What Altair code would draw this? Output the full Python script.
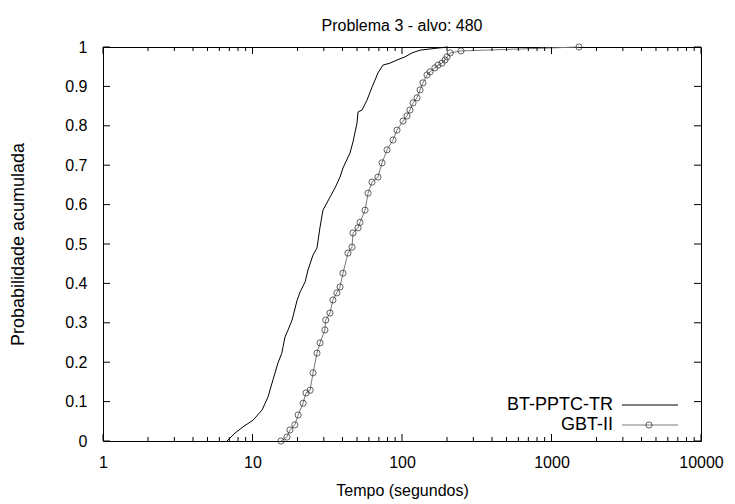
import altair as alt
import pandas as pd

chart_title = "Problema 3 - alvo: 480"
x_title = "Tempo (segundos)"
y_title = "Probabilidade acumulada"
series_names = ["BT-PPTC-TR", "GBT-II"]

x_major = [1, 10, 100, 1000, 10000]
x_minor = [k * 10 ** e for e in range(4) for k in range(2, 10)]
y_major = [0, 0.1, 0.2, 0.3, 0.4, 0.5, 0.6, 0.7, 0.8, 0.9, 1]

bt_t = [6.75, 7.64, 8.64, 10.1, 11.6, 12.7, 13.7, 14.8, 15.7, 16.5, 17.3, 18.4,
        19.9, 20.8, 22.5, 23.5, 25.4, 27.0, 28.3, 29.6, 33.0, 35.6, 38.5, 40.3,
        44.9, 47.0, 50.0, 50.8, 54.0, 58.3, 63.0, 66.0, 69.0, 74.6, 83.0, 92.6,
        104.7, 116.7, 132.0, 171.0, 203.0]
bt_p = [0.0, 0.02, 0.036, 0.053, 0.079, 0.112, 0.155, 0.198, 0.223, 0.264, 0.282, 0.307,
        0.358, 0.378, 0.404, 0.434, 0.472, 0.490, 0.543, 0.586, 0.619, 0.642, 0.670, 0.693,
        0.731, 0.759, 0.807, 0.835, 0.840, 0.865, 0.898, 0.916, 0.934, 0.954, 0.959, 0.967,
        0.975, 0.985, 0.992, 0.997, 1.0]

gbt_t = [15.5, 17.0, 17.8, 19.2, 20.2, 21.8, 22.8, 24.3, 25.4, 27.0, 28.3, 30.5,
         30.9, 33.0, 34.5, 36.7, 38.5, 40.3, 43.5, 46.3, 47.0, 50.8, 52.4, 56.6,
         59.3, 63.0, 69.1, 73.5, 79.4, 87.1, 92.6, 101.6, 108.0, 113.0, 118.5, 126.0,
         132.0, 138.0, 147.0, 154.0, 166.0, 174.0, 185.0, 194.0, 200.0, 210.0, 248.0, 1528.0]
gbt_p = [0.0, 0.01, 0.028, 0.041, 0.066, 0.096, 0.122, 0.129, 0.173, 0.223, 0.249, 0.282,
         0.307, 0.325, 0.358, 0.376, 0.391, 0.426, 0.477, 0.492, 0.528, 0.541, 0.555, 0.586,
         0.629, 0.657, 0.670, 0.706, 0.739, 0.764, 0.789, 0.812, 0.825, 0.840, 0.858, 0.871,
         0.891, 0.909, 0.929, 0.937, 0.947, 0.954, 0.959, 0.967, 0.975, 0.985, 0.990, 1.0]

W, H = 598, 394
FONT = "Liberation Sans"
FS = 16

xs = alt.Scale(type="log", domain=[1, 10000])
ys = alt.Scale(domain=[0, 1])

bt = pd.DataFrame({"t": bt_t, "p": bt_p, "i": range(len(bt_t))})
gbt = pd.DataFrame({"t": gbt_t, "p": gbt_p, "i": range(len(gbt_t))})

x_axis = alt.Axis(values=x_major, format="d", title=x_title, tickSize=0, domain=False,
                  grid=False, labelPadding=13, titlePadding=12, labelFlush=False)
y_axis = alt.Axis(values=y_major, format="~g", title=y_title, tickSize=0, domain=False,
                  grid=False, labelPadding=16, titlePadding=37, titleFontSize=18)


def X(f):
    return alt.X(f, scale=xs, axis=x_axis)


def Y(f):
    return alt.Y(f, scale=ys, axis=y_axis)


line_bt = alt.Chart(bt).mark_line(color="black", strokeWidth=1).encode(
    x=X("t:Q"), y=Y("p:Q"), order="i:Q")
line_gbt = alt.Chart(gbt).mark_line(color="#7a7a7a", strokeWidth=1).encode(
    x=X("t:Q"), y=Y("p:Q"), order="i:Q")
pts_gbt = alt.Chart(gbt).mark_point(shape="circle", filled=False, color="#222222",
                                    size=38, strokeWidth=1).encode(
    x=X("t:Q"), y=Y("p:Q"))

xmaj = pd.DataFrame({"t": x_major})
xmin = pd.DataFrame({"t": x_minor})
ymaj = pd.DataFrame({"p": y_major})


def xt(df, y0, y1):
    return alt.Chart(df).mark_rule(color="black", strokeWidth=1).encode(
        x=X("t:Q"), y=alt.value(y0), y2=alt.value(y1))


def yt(df, x0, x1):
    return alt.Chart(df).mark_rule(color="black", strokeWidth=1).encode(
        y=Y("p:Q"), x=alt.value(x0), x2=alt.value(x1))


ticks = [
    xt(xmaj, H, H - 7), xt(xmin, H, H - 4),
    xt(xmaj, 0, 7), xt(xmin, 0, 4),
    yt(ymaj, 0, 7), yt(ymaj, W, W - 7),
]

LFS = 18
one = pd.DataFrame({"a": [0]})
leg = [
    alt.Chart(one).mark_text(align="right", baseline="middle", font=FONT, fontSize=LFS,
                             color="black").encode(
        x=alt.value(510), y=alt.value(358), text=alt.value(series_names[0])),
    alt.Chart(one).mark_text(align="right", baseline="middle", font=FONT, fontSize=LFS,
                             color="black").encode(
        x=alt.value(510), y=alt.value(378), text=alt.value(series_names[1])),
    alt.Chart(one).mark_rule(color="black", strokeWidth=1).encode(
        x=alt.value(519), x2=alt.value(575), y=alt.value(358)),
    alt.Chart(one).mark_rule(color="#7a7a7a", strokeWidth=1).encode(
        x=alt.value(519), x2=alt.value(575), y=alt.value(378)),
    alt.Chart(one).mark_point(shape="circle", filled=False, color="#222222", size=38,
                              strokeWidth=1).encode(
        x=alt.value(546), y=alt.value(378)),
]

chart = alt.layer(line_bt, line_gbt, pts_gbt, *ticks, *leg).properties(
    width=W, height=H,
    title=alt.TitleParams(chart_title, font=FONT, fontSize=FS, fontWeight="normal",
                          color="black", anchor="middle", offset=5),
    autosize=alt.AutoSizeParams(type="none"),
    padding={"left": 95, "top": 39, "right": 26, "bottom": 60},
).configure_view(stroke="black", strokeWidth=1).configure_axis(
    labelFont=FONT, titleFont=FONT, labelFontSize=FS, titleFontSize=FS,
    labelColor="black", titleColor="black", titleFontWeight="normal",
)

chart.save("out.html", embed_options={"renderer": "svg", "actions": False})
